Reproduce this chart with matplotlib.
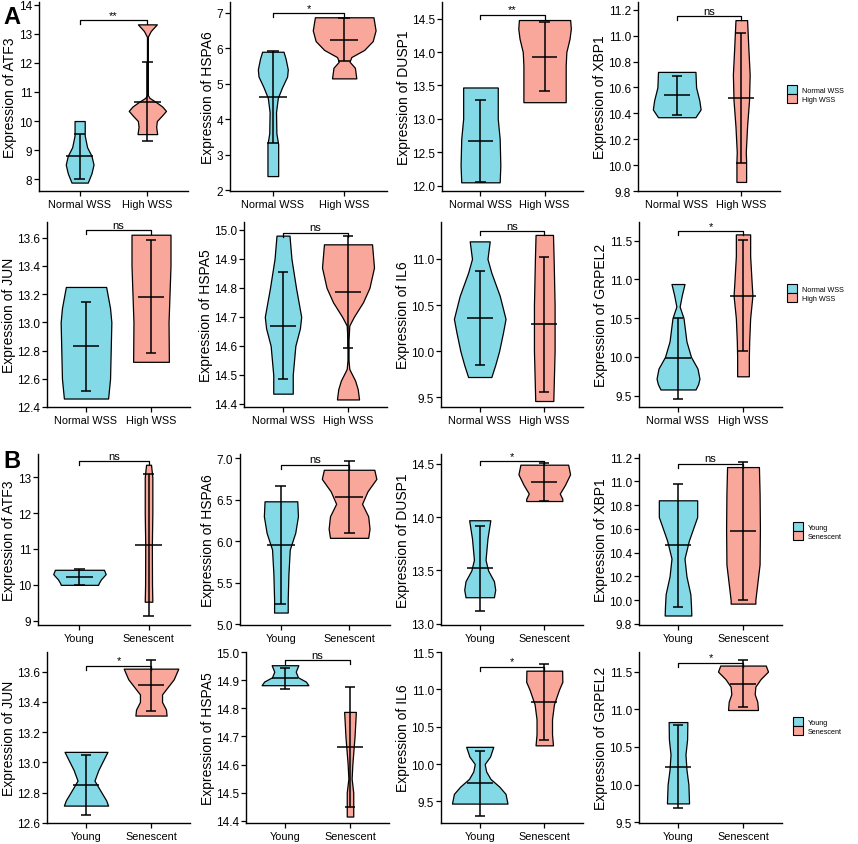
import numpy as np
import matplotlib
matplotlib.use('Agg')
import matplotlib.pyplot as plt
from matplotlib.patches import Patch

plt.rcParams['font.family'] = ['Liberation Sans', 'DejaVu Sans']

# ---- data ----
genes = ['ATF3', 'HSPA6', 'DUSP1', 'XBP1', 'JUN', 'HSPA5', 'IL6', 'GRPEL2']
groups_a = ['Normal WSS', 'High WSS']
groups_b = ['Young', 'Senescent']

# mean and sd of each group (crossbar + error bar)
mean_a_ctrl = [8.78, 4.63, 12.67, 10.54, 12.83, 14.67, 10.36, 9.98]
sd_a_ctrl = [0.78, 1.30, 0.62, 0.15, 0.315, 0.186, 0.505, 0.52]
mean_a_case = [10.66, 6.24, 13.93, 10.52, 13.18, 14.785, 10.29, 10.79]
sd_a_case = [1.36, 0.61, 0.52, 0.50, 0.40, 0.192, 0.735, 0.72]
mean_b_ctrl = [10.22, 5.95, 13.52, 10.46, 12.85, 14.907, 9.74, 10.24]
sd_b_ctrl = [0.225, 0.71, 0.40, 0.52, 0.197, 0.037, 0.43, 0.55]
mean_b_case = [11.10, 6.53, 14.33, 10.58, 13.51, 14.662, 10.83, 11.34]
sd_b_case = [1.98, 0.43, 0.18, 0.58, 0.17, 0.212, 0.515, 0.31]

# significance brackets
sig_a = ['**', '*', '**', 'ns', 'ns', 'ns', 'ns', '*']
sig_b = ['ns', 'ns', '*', 'ns', '*', 'ns', '*', '*']
bracket_a = [13.48, 6.98, 14.56, 11.15, 13.65, 14.99, 11.30, 11.62]
bracket_b = [13.45, 6.92, 14.52, 11.15, 13.64, 14.97, 11.30, 11.62]

# violin outlines: (expression level, half width)
violin_a_ctrl = {
    'ATF3': [(7.88, 0.12), (8.2, 0.175), (8.5, 0.205), (8.8, 0.175), (9.1, 0.11), (9.5, 0.075), (10.0, 0.075)],
    'HSPA6': [(2.4, 0.075), (3.3, 0.075), (3.6, 0.05), (4.2, 0.045), (4.6, 0.07), (4.9, 0.13),
              (5.2, 0.2), (5.4, 0.21), (5.7, 0.18), (5.9, 0.15)],
    'DUSP1': [(12.05, 0.30), (12.3, 0.31), (12.7, 0.30), (13.0, 0.27), (13.3, 0.27), (13.47, 0.27)],
    'XBP1': [(10.37, 0.29), (10.43, 0.37), (10.5, 0.35), (10.6, 0.3), (10.72, 0.29)],
    'JUN': [(12.46, 0.34), (12.6, 0.37), (12.8, 0.38), (13.0, 0.39), (13.1, 0.37), (13.25, 0.31)],
    'HSPA5': [(14.435, 0.15), (14.5, 0.15), (14.6, 0.19), (14.66, 0.26), (14.7, 0.28), (14.8, 0.2),
              (14.9, 0.13), (14.98, 0.1)],
    'IL6': [(9.72, 0.18), (9.85, 0.24), (10.0, 0.3), (10.2, 0.36), (10.35, 0.4), (10.6, 0.31),
            (10.85, 0.18), (11.0, 0.12), (11.19, 0.155)],
    'GRPEL2': [(9.58, 0.27), (9.65, 0.31), (9.72, 0.33), (9.85, 0.3), (10.0, 0.2), (10.2, 0.13),
               (10.5, 0.085), (10.65, 0.025), (10.8, 0.06), (10.94, 0.1)],
}
violin_a_case = {
    'ATF3': [(9.55, 0.145), (9.8, 0.13), (10.0, 0.14), (10.2, 0.22), (10.35, 0.275), (10.5, 0.22),
             (10.65, 0.13), (10.8, 0.03), (10.9, 0.006), (12.9, 0.006), (13.1, 0.05), (13.33, 0.14)],
    'HSPA6': [(5.15, 0.17), (5.45, 0.15), (5.62, 0.075), (5.75, 0.1), (5.95, 0.28), (6.2, 0.4),
              (6.5, 0.44), (6.75, 0.42), (6.87, 0.41)],
    'DUSP1': [(13.25, 0.33), (13.5, 0.33), (13.8, 0.33), (14.0, 0.34), (14.2, 0.39), (14.35, 0.41), (14.48, 0.40)],
    'XBP1': [(9.87, 0.075), (10.03, 0.075), (10.1, 0.07), (10.3, 0.09), (10.5, 0.12), (10.7, 0.13),
             (10.9, 0.11), (11.12, 0.09)],
    'JUN': [(12.72, 0.275), (13.0, 0.27), (13.4, 0.3), (13.62, 0.3)],
    'HSPA5': [(14.415, 0.17), (14.45, 0.15), (14.48, 0.11), (14.52, 0.02), (14.55, 0.008), (14.62, 0.008),
              (14.67, 0.02), (14.7, 0.09), (14.75, 0.23), (14.8, 0.33), (14.87, 0.4), (14.95, 0.37)],
    'IL6': [(9.46, 0.14), (10.0, 0.16), (10.5, 0.16), (11.0, 0.145), (11.26, 0.135)],
    'GRPEL2': [(9.75, 0.09), (10.0, 0.09), (10.2, 0.095), (10.5, 0.11), (10.79, 0.145), (11.0, 0.13),
               (11.3, 0.11), (11.58, 0.11)],
}
violin_b_ctrl = {
    'ATF3': [(10.0, 0.27), (10.05, 0.28), (10.15, 0.31), (10.3, 0.38), (10.42, 0.355)],
    'HSPA6': [(5.14, 0.1), (5.3, 0.1), (5.6, 0.11), (5.9, 0.13), (6.1, 0.21), (6.3, 0.25), (6.48, 0.24)],
    'DUSP1': [(13.25, 0.22), (13.32, 0.24), (13.4, 0.22), (13.5, 0.13), (13.6, 0.09), (13.8, 0.12), (13.97, 0.164)],
    'XBP1': [(9.87, 0.205), (9.95, 0.2), (10.05, 0.19), (10.2, 0.13), (10.35, 0.1), (10.5, 0.167),
             (10.7, 0.295), (10.84, 0.295)],
    'JUN': [(12.715, 0.34), (12.75, 0.31), (12.8, 0.24), (12.88, 0.13), (12.95, 0.19), (13.07, 0.33)],
    'HSPA5': [(14.882, 0.36), (14.895, 0.32), (14.91, 0.2), (14.93, 0.165), (14.953, 0.205)],
    'IL6': [(9.47, 0.43), (9.6, 0.4), (9.7, 0.3), (9.8, 0.167), (9.9, 0.1), (10.0, 0.077), (10.1, 0.16), (10.23, 0.21)],
    'GRPEL2': [(9.75, 0.17), (10.0, 0.16), (10.2, 0.13), (10.4, 0.115), (10.6, 0.14), (10.83, 0.144)],
}
violin_b_case = {
    'ATF3': [(9.53, 0.055), (10.0, 0.05), (11.1, 0.048), (12.0, 0.055), (13.0, 0.055), (13.35, 0.036)],
    'HSPA6': [(6.04, 0.28), (6.15, 0.3), (6.3, 0.28), (6.45, 0.19), (6.6, 0.27), (6.75, 0.4), (6.86, 0.37)],
    'DUSP1': [(14.15, 0.28), (14.17, 0.28), (14.22, 0.24), (14.3, 0.32), (14.4, 0.4), (14.49, 0.37)],
    'XBP1': [(9.97, 0.19), (10.0, 0.19), (10.3, 0.255), (10.6, 0.26), (10.9, 0.255), (11.12, 0.245)],
    'JUN': [(13.31, 0.24), (13.35, 0.23), (13.4, 0.17), (13.45, 0.17), (13.55, 0.35), (13.62, 0.42)],
    'HSPA5': [(14.415, 0.05), (14.5, 0.05), (14.55, 0.025), (14.6, 0.036), (14.7, 0.07), (14.787, 0.09)],
    'IL6': [(10.25, 0.135), (10.4, 0.12), (10.6, 0.12), (10.8, 0.15), (11.0, 0.23), (11.1, 0.28), (11.25, 0.277)],
    'GRPEL2': [(10.99, 0.23), (11.1, 0.22), (11.2, 0.18), (11.3, 0.19), (11.4, 0.27), (11.5, 0.385), (11.58, 0.35)],
}

# ---- layout (pixels of an 858x845 canvas) ----
W, H = 858, 845
rows_px = [(3, 192), (223, 408), (455, 626), (653, 824)]
cols_px = [[(39, 188), (230, 387), (442, 583), (638, 780)],
           [(47, 190), (244, 387), (441, 583), (639, 782)],
           [(38, 190), (240, 390), (441, 583), (639, 782)],
           [(47, 190), (246, 389), (441, 583), (639, 782)]]
ylims_a = [(7.59, 14.1), (1.98, 7.3), (11.92, 14.75), (9.8, 11.26),
           (12.4, 13.71), (14.389, 15.027), (9.395, 11.40), (9.354, 11.74)]
ylims_b = [(8.88, 13.65), (4.99, 7.05), (12.99, 14.59), (9.79, 11.23),
           (12.6, 13.73), (14.392, 15.0), (9.21, 11.5), (9.49, 11.76)]
yticks_a = [(8, 14, 1), (2, 7, 1), (12, 14.5, 0.5), (9.8, 11.2, 0.2),
            (12.4, 13.6, 0.2), (14.4, 15.0, 0.1), (9.5, 11.0, 0.5), (9.5, 11.5, 0.5)]
yticks_b = [(9, 13, 1), (5, 7, 0.5), (13, 14.5, 0.5), (9.8, 11.2, 0.2),
            (12.6, 13.6, 0.2), (14.4, 15.0, 0.1), (9.5, 11.5, 0.5), (9.5, 11.5, 0.5)]

CYAN = '#84d9e6'
SALMON = '#f9a69b'


def draw_violin(ax, xc, profile, color):
    ys = np.array([p[0] for p in profile])
    hw = np.array([p[1] for p in profile])
    ax.fill_betweenx(ys, xc - hw, xc + hw, facecolor=color, edgecolor='black', lw=0.9, zorder=2)


def draw_errbar(ax, xc, m, s):
    kw = dict(color='black', lw=1.1, zorder=3, solid_capstyle='butt')
    ax.plot([xc, xc], [m - s, m + s], **kw)
    ax.plot([xc - 0.08, xc + 0.08], [m - s, m - s], **kw)
    ax.plot([xc - 0.08, xc + 0.08], [m + s, m + s], **kw)
    ax.plot([xc - 0.2, xc + 0.2], [m, m], **kw)


fig = plt.figure(figsize=(W / 100, H / 100), dpi=100)

panels = [(groups_a, ylims_a, yticks_a, mean_a_ctrl, sd_a_ctrl, mean_a_case, sd_a_case,
           violin_a_ctrl, violin_a_case, sig_a, bracket_a),
          (groups_b, ylims_b, yticks_b, mean_b_ctrl, sd_b_ctrl, mean_b_case, sd_b_case,
           violin_b_ctrl, violin_b_case, sig_b, bracket_b)]

for p, (groups, ylims, yticks, m1, s1, m2, s2, v1, v2, sig, brk) in enumerate(panels):
    for i, gene in enumerate(genes):
        r = p * 2 + i // 4
        c = i % 4
        top, bot = rows_px[r]
        left, right = cols_px[r][c]
        ax = fig.add_axes([left / W, 1 - bot / H, (right - left) / W, (bot - top) / H])
        lo, hi = ylims[i]
        ax.set_xlim(0.4, 2.6)
        ax.set_ylim(lo, hi)

        draw_violin(ax, 1, v1[gene], CYAN)
        draw_violin(ax, 2, v2[gene], SALMON)
        draw_errbar(ax, 1, m1[i], s1[i])
        draw_errbar(ax, 2, m2[i], s2[i])

        # significance bracket
        tick = (hi - lo) / (bot - top) * 4
        b = brk[i]
        ax.plot([1, 1, 2, 2], [b - tick, b, b, b - tick], color='black', lw=0.9, zorder=4, clip_on=False)
        ax.text(1.5, b + tick * 0.1, sig[i], ha='center', va='bottom', fontsize=8, clip_on=False)

        t0, t1, st = yticks[i]
        ticks = np.arange(t0, t1 + st / 2, st)
        ax.set_yticks(ticks)
        if st >= 1:
            ax.set_yticklabels([f'{t:.0f}' for t in ticks])
        else:
            ax.set_yticklabels([f'{t:.1f}' for t in ticks])
        ax.set_xticks([1, 2])
        ax.set_xticklabels(groups)
        ax.tick_params(axis='y', labelsize=8.5, length=3.5, width=0.9, colors='black', pad=1.5)
        ax.tick_params(axis='x', labelsize=7.8, length=3.5, width=0.9, colors='black', pad=2.5)
        ax.set_ylabel(f'Expression of {gene}', fontsize=10, labelpad=1)
        for side in ['top', 'right']:
            ax.spines[side].set_visible(False)
        for side in ['left', 'bottom']:
            ax.spines[side].set_linewidth(1.0)

    # legends, one per row
    for k, (yc, xl) in enumerate([(95, 787), (294, 787)] if p == 0 else [(532, 793), (727, 793)]):
        handles = [Patch(facecolor=CYAN, edgecolor='black', lw=0.8, label=groups[0]),
                   Patch(facecolor=SALMON, edgecolor='black', lw=0.8, label=groups[1])]
        fig.legend(handles=handles, loc='center left', bbox_to_anchor=(xl / W, 1 - yc / H),
                   frameon=False, fontsize=5.2, handlelength=1.45, handleheight=1.6,
                   labelspacing=0.05, handletextpad=0.6, borderpad=0, borderaxespad=0)

fig.text(3 / W, 1 - 18 / H, 'A', fontsize=17, fontweight='bold', va='center', ha='left')
fig.text(3 / W, 1 - 462 / H, 'B', fontsize=17, fontweight='bold', va='center', ha='left')

fig.savefig('out.png', dpi=100, facecolor='white')
